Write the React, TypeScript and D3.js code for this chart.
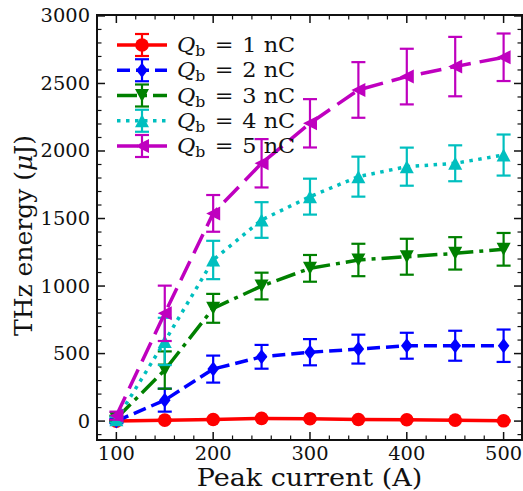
import React from 'react';
import * as d3 from 'd3';

const currents = [100, 150, 200, 250, 300, 350, 400, 450, 500];
const q1Values = [0, 7, 12, 20, 17, 12, 10, 7, 2];
const q1Errors = [4, 4, 4, 4, 4, 4, 4, 4, 4];
const q2Values = [0, 155, 385, 476, 510, 533, 558, 558, 558];
const q2Errors = [15, 85, 100, 88, 97, 107, 96, 111, 120];
const q3Values = [20, 378, 835, 1000, 1131, 1193, 1217, 1242, 1272];
const q3Errors = [20, 138, 107, 99, 99, 120, 133, 120, 121];
const q4Values = [10, 590, 1193, 1489, 1662, 1810, 1884, 1909, 1970];
const q4Errors = [20, 175, 142, 132, 133, 148, 141, 133, 152];
const q5Values = [40, 798, 1538, 1909, 2205, 2452, 2551, 2625, 2694];
const q5Errors = [30, 205, 136, 179, 179, 206, 206, 220, 176];
const chargeLabels = ['1', '2', '3', '4', '5'];
const xTicks = [100, 200, 300, 400, 500];
const yTicks = [0, 500, 1000, 1500, 2000, 2500, 3000];

const FONT = 'DejaVu Serif';

type Marker = 'circle' | 'diamond' | 'down' | 'up' | 'left';

const styles: { color: string; dash: string; marker: Marker }[] = [
  { color: '#ff0000', dash: 'none', marker: 'circle' },
  { color: '#0000ff', dash: '13,6', marker: 'diamond' },
  { color: '#008000', dash: '20,6,4,6', marker: 'down' },
  { color: '#00bfbf', dash: '3.5,5.5', marker: 'up' },
  { color: '#bf00bf', dash: '21,9', marker: 'left' },
];

function MarkerShape({ type, cx, cy, color }: { type: Marker; cx: number; cy: number; color: string }) {
  if (type === 'circle') return <circle cx={cx} cy={cy} r={6.8} fill={color} />;
  let d = '';
  if (type === 'diamond') d = 'M0,-7.5 L5.8,0 L0,7.5 L-5.8,0Z';
  if (type === 'down') d = 'M-7,-6.5 L7,-6.5 L0,6.5Z';
  if (type === 'up') d = 'M-7,6.5 L7,6.5 L0,-6.5Z';
  if (type === 'left') d = 'M-7,0 L7,-7 L7,7Z';
  return <path d={d} transform={`translate(${cx},${cy})`} fill={color} />;
}

export default function App() {
  const W = 523;
  const H = 491;
  const x = d3.scaleLinear().domain([80, 519]).range([97, 522]);
  const y = d3.scaleLinear().domain([-140, 3007]).range([440, 15]);
  const [x0, x1] = x.range();
  const [y0, y1] = y.range();

  const series = [
    { v: q1Values, e: q1Errors },
    { v: q2Values, e: q2Errors },
    { v: q3Values, e: q3Errors },
    { v: q4Values, e: q4Errors },
    { v: q5Values, e: q5Errors },
  ];

  const line = d3
    .line<number>()
    .x((_, i) => x(currents[i]))
    .y((d) => y(d));

  const xMinor = d3.range(80, 521, 20).filter((v) => v % 100 !== 0);
  const yMinor = d3.range(-100, 3001, 100).filter((v) => v % 500 !== 0);
  const cap = 7;
  const sx = 1.08;

  return (
    <svg width={W} height={H} style={{ position: 'absolute', left: 0, top: 0, background: '#fff' }} fontFamily={FONT}>
      {series.map((s, si) => {
        const st = styles[si];
        return (
          <g key={si}>
            <path d={line(s.v) || ''} fill="none" stroke={st.color} strokeWidth={3.5} strokeDasharray={st.dash} />
            {s.v.map((v, i) => {
              const cx = x(currents[i]);
              const top = y(v + s.e[i]);
              const bot = y(v - s.e[i]);
              return (
                <g key={i} stroke={st.color} strokeWidth={2.2}>
                  <line x1={cx} x2={cx} y1={top} y2={bot} />
                  <line x1={cx - cap} x2={cx + cap} y1={top} y2={top} />
                  <line x1={cx - cap} x2={cx + cap} y1={bot} y2={bot} />
                </g>
              );
            })}
            {s.v.map((v, i) => (
              <MarkerShape key={i} type={st.marker} cx={x(currents[i])} cy={y(v)} color={st.color} />
            ))}
          </g>
        );
      })}

      {/* frame */}
      <rect x={x0} y={y1} width={x1 - x0} height={y0 - y1} fill="none" stroke="#111" strokeWidth={2} />

      {/* x ticks */}
      {xTicks.map((t) => (
        <g key={'xt' + t} stroke="#111" strokeWidth={1.5}>
          <line x1={x(t)} x2={x(t)} y1={y0} y2={y0 - 8} />
          <line x1={x(t)} x2={x(t)} y1={y1} y2={y1 + 8} />
        </g>
      ))}
      {xMinor.map((t) => (
        <g key={'xm' + t} stroke="#111" strokeWidth={1.2}>
          <line x1={x(t)} x2={x(t)} y1={y0} y2={y0 - 4.5} />
          <line x1={x(t)} x2={x(t)} y1={y1} y2={y1 + 4.5} />
        </g>
      ))}
      {yTicks.map((t) => (
        <g key={'yt' + t} stroke="#111" strokeWidth={1.5}>
          <line x1={x0} x2={x0 + 8} y1={y(t)} y2={y(t)} />
          <line x1={x1} x2={x1 - 8} y1={y(t)} y2={y(t)} />
        </g>
      ))}
      {yMinor.map((t) => (
        <g key={'ym' + t} stroke="#111" strokeWidth={1.2}>
          <line x1={x0} x2={x0 + 4.5} y1={y(t)} y2={y(t)} />
          <line x1={x1} x2={x1 - 4.5} y1={y(t)} y2={y(t)} />
        </g>
      ))}

      {/* tick labels */}
      {xTicks.map((t) => (
        <text key={'xl' + t} transform={`translate(${x(t)},${460}) scale(${sx},1)`} textAnchor="middle" fontSize={18} fill="#111">
          {t}
        </text>
      ))}
      {yTicks.map((t) => (
        <text key={'yl' + t} transform={`translate(${90},${y(t) + 6.5}) scale(${sx},1)`} textAnchor="end" fontSize={18} fill="#111">
          {t}
        </text>
      ))}

      {/* axis labels */}
      <text transform={`translate(${(x0 + x1) / 2},${486}) scale(${sx},1)`} textAnchor="middle" fontSize={25} fill="#111">
        Peak current (A)
      </text>
      <text transform={`translate(${32},${(y0 + y1) / 2 + 8}) rotate(-90)`} textAnchor="middle" fontSize={25} fill="#111">
        THz energy (<tspan fontStyle="italic">μ</tspan>J)
      </text>

      {/* legend */}
      {chargeLabels.map((lab, i) => {
        const st = styles[i];
        const cy = 45 + i * 25.25;
        const hx = 142;
        return (
          <g key={'lg' + i}>
            <line x1={117} x2={167} y1={cy} y2={cy} stroke={st.color} strokeWidth={3.5} strokeDasharray={st.dash} />
            <g stroke={st.color} strokeWidth={2.2}>
              <line x1={hx} x2={hx} y1={cy - 11} y2={cy + 11} />
              <line x1={hx - cap} x2={hx + cap} y1={cy - 11} y2={cy - 11} />
              <line x1={hx - cap} x2={hx + cap} y1={cy + 11} y2={cy + 11} />
            </g>
            <MarkerShape type={st.marker} cx={hx} cy={cy} color={st.color} />
            <text transform={`translate(${177},${cy + 7}) scale(1.12,1)`} fontSize={20} fill="#111">
              <tspan fontStyle="italic">Q</tspan>
              <tspan fontSize={14} dy={4}>b</tspan>
              <tspan dy={-4} dx={2}>{' = '}</tspan>
              <tspan dx={1.5}>{lab + ' nC'}</tspan>
            </text>
          </g>
        );
      })}
    </svg>
  );
}
